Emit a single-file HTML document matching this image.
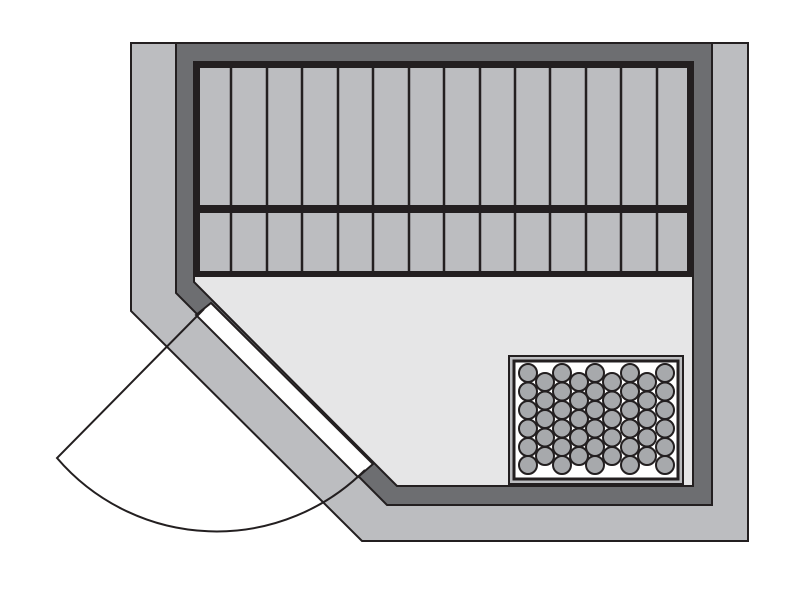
<!DOCTYPE html>
<html><head><style>html,body{margin:0;padding:0;background:#fff;}svg{display:block}</style></head>
<body>
<svg width="800" height="591" viewBox="0 0 800 591" xmlns="http://www.w3.org/2000/svg">
<defs>
<g id="c6" fill="#a7a9ac" stroke="#231f20" stroke-width="2">
<circle cx="0" cy="373" r="9"/><circle cx="0" cy="391.5" r="9"/><circle cx="0" cy="410" r="9"/><circle cx="0" cy="428.5" r="9"/><circle cx="0" cy="447" r="9"/><circle cx="0" cy="465" r="9"/>
</g>
<g id="c5" fill="#a7a9ac" stroke="#231f20" stroke-width="2">
<circle cx="0" cy="382" r="9"/><circle cx="0" cy="400.5" r="9"/><circle cx="0" cy="419" r="9"/><circle cx="0" cy="437.5" r="9"/><circle cx="0" cy="456" r="9"/>
</g>
</defs>
<polygon points="131,43 748,43 748,541 362,541 131,311" fill="#bcbdc0" stroke="#231f20" stroke-width="2"/>
<polygon points="176,43 712,43 712,505 387,505 176,293" fill="#6d6e71" stroke="#231f20" stroke-width="2"/>
<polygon points="194,62 693,62 693,486 397,486 194,282" fill="#e6e6e7" stroke="#231f20" stroke-width="2"/>
<polygon points="196,315 211,303 373,464 358,477" fill="#fff" stroke="#231f20" stroke-width="2"/>
<rect x="197" y="65" width="493" height="209" fill="#bcbdc0" stroke="#231f20" stroke-width="6"/>
<rect x="197" y="205" width="493" height="8" fill="#231f20"/>
<g stroke="#231f20" stroke-width="2.5">
<line x1="231" y1="65" x2="231" y2="274"/><line x1="267" y1="65" x2="267" y2="274"/><line x1="302" y1="65" x2="302" y2="274"/><line x1="338" y1="65" x2="338" y2="274"/><line x1="373" y1="65" x2="373" y2="274"/><line x1="409" y1="65" x2="409" y2="274"/><line x1="444" y1="65" x2="444" y2="274"/><line x1="480" y1="65" x2="480" y2="274"/><line x1="515" y1="65" x2="515" y2="274"/><line x1="550" y1="65" x2="550" y2="274"/><line x1="586" y1="65" x2="586" y2="274"/><line x1="621" y1="65" x2="621" y2="274"/><line x1="657" y1="65" x2="657" y2="274"/>
</g>
<path d="M204,309 L57,458 A210,210 0 0 0 365,470" fill="none" stroke="#231f20" stroke-width="2"/>
<rect x="509" y="356" width="174" height="128" fill="#bcbdc0" stroke="#231f20" stroke-width="2"/>
<rect x="514" y="361" width="164" height="118" fill="#fff" stroke="#231f20" stroke-width="3"/>
<use href="#c6" x="528"/><use href="#c5" x="545"/><use href="#c6" x="562"/><use href="#c5" x="579"/><use href="#c6" x="595"/><use href="#c5" x="612"/><use href="#c6" x="630"/><use href="#c5" x="647"/><use href="#c6" x="665"/>
</svg>
</body></html>
